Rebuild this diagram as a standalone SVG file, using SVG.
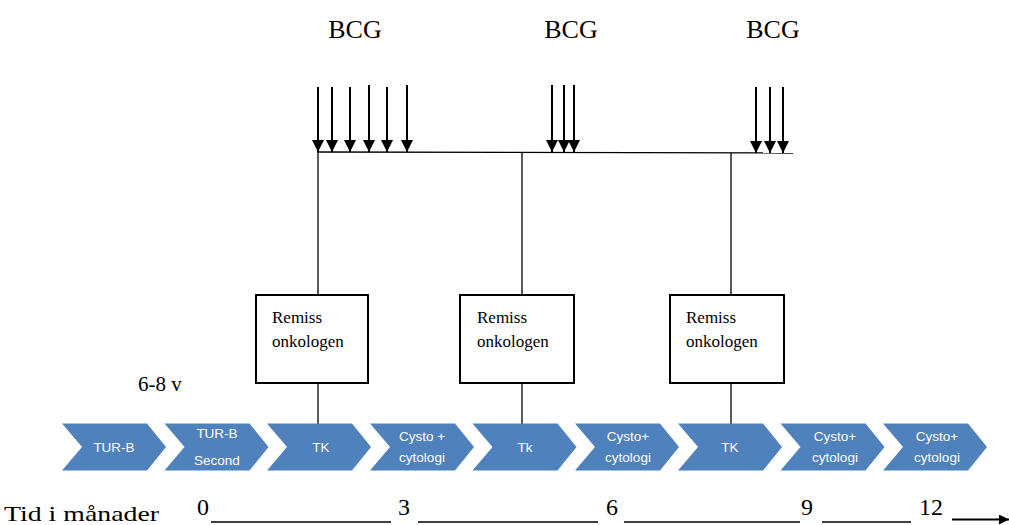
<svg xmlns="http://www.w3.org/2000/svg" width="1009" height="525" viewBox="0 0 1009 525">
<defs>
<style>
text.serif{font-family:"Liberation Serif","Times New Roman",serif;fill:#000}
.bcg{font-size:26px;text-anchor:middle}
.box{fill:#fff;stroke:#000;stroke-width:2}
.chev{fill:#4f81bd}
text.ctxt{font-family:"Liberation Sans",Arial,sans-serif;font-size:13.5px;fill:#fff;text-anchor:middle}
.ln{stroke:#000;stroke-width:1.3;fill:none}
.ar{stroke:#000;stroke-width:2;fill:none;marker-end:url(#ah)}
</style>
<marker id="ah" viewBox="0 0 12 12" refX="12" refY="6" markerWidth="12" markerHeight="12" markerUnits="userSpaceOnUse" orient="auto">
<path d="M0,0 L12,6 L0,12 Z" fill="#000"/>
</marker>
<marker id="ah2" viewBox="0 0 10 10" refX="10" refY="5" markerWidth="10" markerHeight="10" markerUnits="userSpaceOnUse" orient="auto">
<path d="M0,0 L10,5 L0,10 Z" fill="#000"/>
</marker>
<path id="chevshape" d="M0,423.5 L85,423.5 L104,447 L85,470.5 L0,470.5 L20,447 Z"/>
</defs>
<rect width="1009" height="525" fill="#fff"/>

<g id="labels-bcg">
<text class="serif bcg" x="355" y="38">BCG</text>
<text class="serif bcg" x="571" y="38">BCG</text>
<text class="serif bcg" x="773" y="38">BCG</text>
</g>

<g id="connectors">
<line class="ln" x1="317" y1="152" x2="793" y2="153"/>
<line class="ar" x1="318" y1="87" x2="318" y2="152"/>
<line class="ar" x1="332" y1="87" x2="332" y2="152"/>
<line class="ar" x1="350" y1="87" x2="350" y2="152"/>
<line class="ar" x1="369" y1="85" x2="369" y2="152"/>
<line class="ar" x1="387" y1="87" x2="387" y2="152"/>
<line class="ar" x1="407" y1="85" x2="407" y2="152"/>
<line class="ar" x1="552" y1="85" x2="552" y2="152"/>
<line class="ar" x1="564" y1="85" x2="564" y2="152"/>
<line class="ar" x1="574" y1="85" x2="574" y2="152"/>
<line class="ar" x1="756" y1="87" x2="756" y2="153"/>
<line class="ar" x1="770" y1="87" x2="770" y2="153"/>
<line class="ar" x1="783" y1="87" x2="783" y2="153"/>
<line class="ln" x1="318" y1="152" x2="318" y2="295"/>
<line class="ln" x1="522" y1="152" x2="522" y2="295"/>
<line class="ln" x1="731" y1="153" x2="731" y2="295"/>
<line class="ln" x1="318" y1="383" x2="318" y2="424"/>
<line class="ln" x1="522" y1="383" x2="522" y2="424"/>
<line class="ln" x1="731" y1="383" x2="731" y2="424"/>
</g>

<g id="box1">
<rect class="box" x="256" y="295" width="112" height="88"/>
<text class="serif" font-family="Liberation Serif, serif" font-size="17" x="272" y="323">Remiss</text>
<text class="serif" font-family="Liberation Serif, serif" font-size="17" x="272" y="347">onkologen</text>
</g>
<g id="box2">
<rect class="box" x="460" y="295" width="114" height="88"/>
<text class="serif" font-family="Liberation Serif, serif" font-size="17" x="477" y="323">Remiss</text>
<text class="serif" font-family="Liberation Serif, serif" font-size="17" x="477" y="347">onkologen</text>
</g>
<g id="box3">
<rect class="box" x="670" y="295" width="114" height="88"/>
<text class="serif" font-family="Liberation Serif, serif" font-size="17" x="686" y="323">Remiss</text>
<text class="serif" font-family="Liberation Serif, serif" font-size="17" x="686" y="347">onkologen</text>
</g>

<g id="label-68v">
<text class="serif" x="138" y="391" font-size="21">6-8 v</text>
</g>

<g id="step1"><use href="#chevshape" class="chev" x="62"/><text class="ctxt" x="114" y="452">TUR-B</text></g>
<g id="step2"><use href="#chevshape" class="chev" x="164.5"/><text class="ctxt" x="217" y="438">TUR-B</text><text class="ctxt" x="217" y="465">Second</text></g>
<g id="step3"><use href="#chevshape" class="chev" x="267"/><text class="ctxt" x="321" y="452">TK</text></g>
<g id="step4"><use href="#chevshape" class="chev" x="370"/><text class="ctxt" x="422" y="441">Cysto +</text><text class="ctxt" x="422" y="462">cytologi</text></g>
<g id="step5"><use href="#chevshape" class="chev" x="472.5"/><text class="ctxt" x="525" y="452">Tk</text></g>
<g id="step6"><use href="#chevshape" class="chev" x="575"/><text class="ctxt" x="628" y="441">Cysto+</text><text class="ctxt" x="628" y="462">cytologi</text></g>
<g id="step7"><use href="#chevshape" class="chev" x="678"/><text class="ctxt" x="730" y="452">TK</text></g>
<g id="step8"><use href="#chevshape" class="chev" x="780.5"/><text class="ctxt" x="835" y="441">Cysto+</text><text class="ctxt" x="835" y="462">cytologi</text></g>
<g id="step9"><use href="#chevshape" class="chev" x="883"/><text class="ctxt" x="937" y="441">Cysto+</text><text class="ctxt" x="937" y="462">cytologi</text></g>

<g id="timeline">
<text class="serif" x="4" y="521" font-size="22" textLength="155" lengthAdjust="spacingAndGlyphs">Tid i månader</text>
<text class="serif" x="197" y="515" font-size="24">0</text>
<text class="serif" x="398" y="515" font-size="24">3</text>
<text class="serif" x="606" y="515" font-size="24">6</text>
<text class="serif" x="801" y="515" font-size="24">9</text>
<text class="serif" x="919" y="515" font-size="24">12</text>
<line class="ln" x1="211" y1="522" x2="391" y2="522"/>
<line class="ln" x1="418" y1="522" x2="598" y2="522"/>
<line class="ln" x1="624" y1="522" x2="800" y2="522"/>
<line class="ln" x1="822" y1="522" x2="911" y2="522"/>
<line x1="952" y1="519.5" x2="1009" y2="519.5" stroke="#000" stroke-width="2.2" marker-end="url(#ah2)"/>
</g>
</svg>
